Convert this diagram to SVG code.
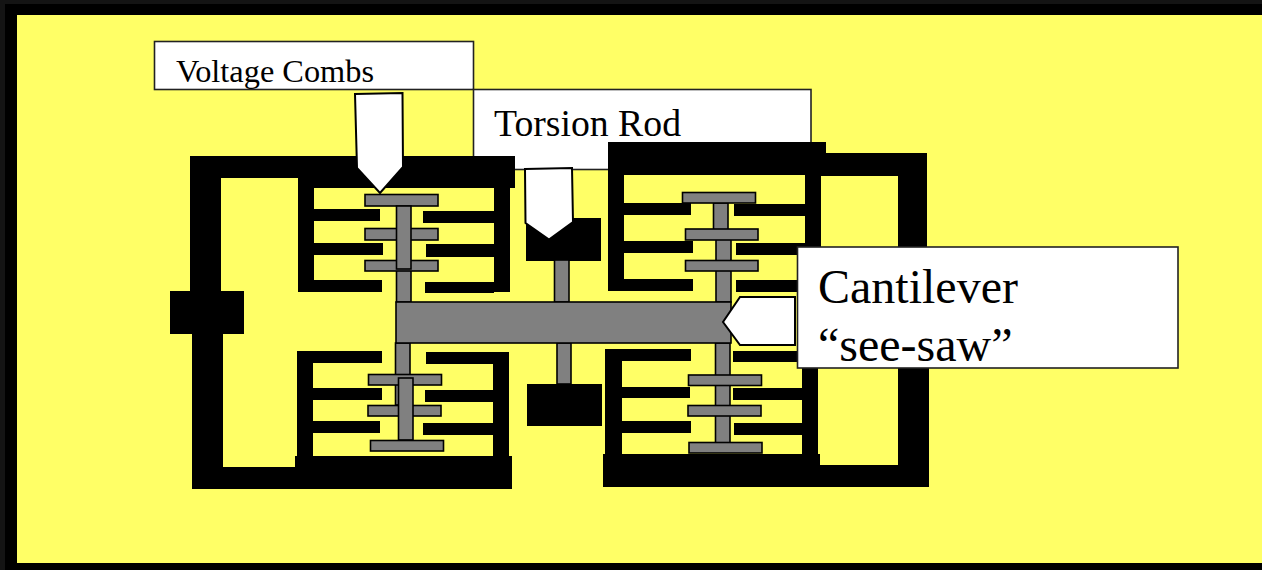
<svg xmlns="http://www.w3.org/2000/svg" width="1262" height="570" viewBox="0 0 1262 570">
<style>
.k{fill:#000}
.g{fill:#808080;stroke:#000;stroke-width:1.6}
.w{fill:#fff;stroke:#222;stroke-width:1.6}
.p{fill:#fff;stroke:#000;stroke-width:2}
.t{font-family:"Liberation Serif","Times New Roman",serif;fill:#000}
</style>
<rect x="0" y="0" width="1262" height="570" fill="#000"/>
<path d="M0 0H1262V4H5V570H0Z" fill="#141414"/>
<rect x="17" y="15" width="1245" height="548" fill="#ffff66"/>
<g id="label-voltage-combs">
<rect class="w" x="154.500" y="41.500" width="319" height="48"/>
<text class="t" x="176" y="82" font-size="32" textLength="198" lengthAdjust="spacingAndGlyphs">Voltage Combs</text>
</g>
<g id="label-torsion-rod">
<rect class="w" x="473.500" y="89.500" width="337.500" height="80"/>
<text class="t" x="494" y="136" font-size="37.500" textLength="187" lengthAdjust="spacingAndGlyphs">Torsion Rod</text>
</g>
<g id="frame-left">
<path class="k" d="M190 156H515V188H510V292H494V188H314V292H298V178H221V291H244V334H223V467H295V456H297V351H313V456H493V352H509V456H512V489H192V334H170V291H190Z"/>
</g>
<g id="frame-right">
<path class="k" d="M608 142H826V153H927V291H929V487H603V454H605V349H622V454H802V300H818V454H820V465H898V176H821V300H805V175H624V291H608Z"/>
</g>
<g id="teeth" class="k">
<rect x="314" y="209" width="66" height="12"/><rect x="314" y="243" width="69" height="12"/><rect x="314" y="280" width="68" height="12"/>
<rect x="423" y="211" width="71" height="12"/><rect x="426" y="244" width="68" height="13"/><rect x="425" y="282" width="69" height="11"/>
<rect x="313" y="351" width="69" height="12"/><rect x="313" y="388" width="69" height="12"/><rect x="313" y="421" width="67" height="12"/>
<rect x="426" y="352" width="67" height="12"/><rect x="425" y="390" width="68" height="12"/><rect x="423" y="423" width="70" height="12"/>
<rect x="624" y="203" width="67" height="12"/><rect x="624" y="241" width="69" height="12"/><rect x="624" y="279" width="69" height="12"/>
<rect x="734" y="204" width="71" height="12"/><rect x="736" y="243" width="69" height="12"/><rect x="736" y="280" width="69" height="12"/>
<rect x="622" y="349" width="69" height="12"/><rect x="622" y="387" width="68" height="11"/><rect x="622" y="421" width="69" height="12"/>
<rect x="733" y="351" width="72" height="11"/><rect x="733" y="388" width="72" height="12"/><rect x="734" y="423" width="71" height="12"/>
</g>
<g id="torsion-anchors" class="k">
<rect x="526" y="218" width="75" height="43"/>
<rect x="527" y="384" width="75" height="42"/>
</g>
<g id="cantilever">
<rect class="g" x="554.500" y="260" width="14.500" height="42"/>
<rect class="g" x="557" y="343" width="14" height="41"/>
<rect class="g" x="396.500" y="268" width="14.500" height="34"/>
<rect class="g" x="395.500" y="343" width="14.500" height="62"/>
<rect class="g" x="716" y="238" width="15" height="64"/>
<rect class="g" x="715.500" y="343" width="14.500" height="100"/>
<rect class="g" x="713.500" y="203" width="14.500" height="27"/>
<rect class="g" x="365" y="194.500" width="73" height="11.500"/>
<rect class="g" x="365" y="228.500" width="73" height="11.500"/>
<rect class="g" x="365" y="260.500" width="73" height="10.500"/>
<rect class="g" x="396.500" y="206" width="14.500" height="63"/>
<rect class="g" x="368.500" y="374.500" width="73" height="10.500"/>
<rect class="g" x="368" y="405.500" width="73" height="10.500"/>
<rect class="g" x="398.500" y="378" width="14.500" height="62"/>
<rect class="g" x="370.500" y="440.500" width="73" height="10.500"/>
<rect class="g" x="682.500" y="192.500" width="73" height="10.500"/>
<rect class="g" x="685.500" y="229" width="72.500" height="11"/>
<rect class="g" x="685.500" y="260.500" width="72.500" height="10.500"/>
<rect class="g" x="688.500" y="375" width="73" height="10.500"/>
<rect class="g" x="688" y="405.500" width="73" height="10.500"/>
<rect class="g" x="689" y="442.500" width="73" height="10.500"/>
<rect class="g" x="396" y="302" width="335" height="41"/>
</g>
<g id="connectors">
<path class="p" d="M355 94L402.500 93L403 167L380 193L357 168Z"/>
<path class="p" d="M525 169L572 168L573 222L549 239.500L525.500 223Z"/>
<path class="p" d="M795 297H740L723 322L740 345H795Z"/>
</g>
<g id="label-cantilever">
<rect class="w" x="797.500" y="247" width="380.500" height="121"/>
<text class="t" x="818" y="303" font-size="48">Cantilever</text>
<text class="t" x="818" y="361" font-size="48">“see-saw”</text>
</g>
</svg>
